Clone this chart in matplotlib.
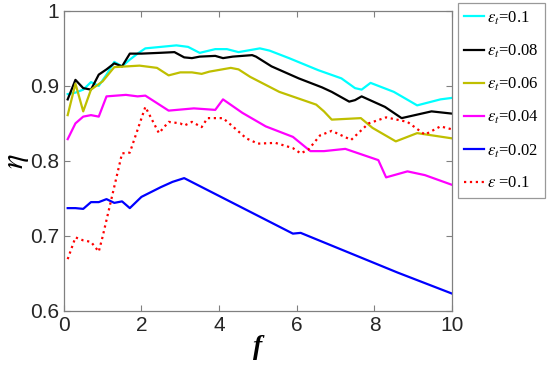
import matplotlib
matplotlib.use("Agg")
import matplotlib.pyplot as plt

# eps_t = 0.1
f_c = [0.1, 0.3, 0.5, 0.7, 0.9, 1.1, 1.3, 1.5, 1.7, 1.9, 2.1, 2.5, 2.9, 3.2, 3.5, 3.9, 4.2, 4.5,
       5.05, 5.3, 5.8, 6.55, 7.15, 7.5, 7.67, 7.9, 8.5, 9.1, 9.7, 10]
eta_c = [0.889, 0.891, 0.895, 0.905, 0.900, 0.915, 0.932, 0.926, 0.935, 0.943, 0.950, 0.952, 0.954,
         0.952, 0.944, 0.949, 0.949, 0.945, 0.950, 0.947, 0.937, 0.921, 0.910, 0.897, 0.895, 0.904,
         0.892, 0.874, 0.882, 0.884]

# eps_t = 0.08
f_k = [0.1, 0.3, 0.5, 0.7, 0.9, 1.1, 1.3, 1.5, 1.7, 2.0, 2.45, 2.85, 3.1, 3.3, 3.5, 3.9, 4.1, 4.35,
       4.85, 4.95, 5.35, 6.05, 6.65, 6.9, 7.35, 7.5, 7.67, 8.27, 8.7, 9.47, 10]
eta_k = [0.882, 0.908, 0.897, 0.895, 0.915, 0.922, 0.930, 0.926, 0.943, 0.943, 0.944, 0.945, 0.938,
         0.937, 0.939, 0.940, 0.937, 0.939, 0.941, 0.939, 0.926, 0.910, 0.898, 0.892, 0.879, 0.881,
         0.886, 0.872, 0.857, 0.866, 0.863]

# eps_t = 0.06
f_y = [0.1, 0.3, 0.5, 0.7, 1.0, 1.3, 1.95, 2.4, 2.7, 3.0, 3.3, 3.55, 3.75, 4.3, 4.5, 4.8, 5.55,
       6.5, 6.7, 6.9, 7.65, 7.95, 8.55, 9.1, 10]
eta_y = [0.861, 0.903, 0.866, 0.895, 0.906, 0.925, 0.927, 0.924, 0.914, 0.918, 0.918, 0.916, 0.919,
         0.924, 0.922, 0.912, 0.892, 0.875, 0.866, 0.855, 0.857, 0.844, 0.826, 0.837, 0.830]

# eps_t = 0.04
f_m = [0.1, 0.3, 0.5, 0.7, 0.9, 1.1, 1.6, 1.9, 2.1, 2.7, 3.35, 3.9, 4.1, 4.6, 5.2, 5.9, 6.35, 6.7,
       7.25, 8.1, 8.3, 8.85, 9.3, 10]
eta_m = [0.829, 0.850, 0.859, 0.861, 0.859, 0.886, 0.888, 0.886, 0.887, 0.867, 0.870, 0.868, 0.882,
         0.864, 0.846, 0.832, 0.813, 0.813, 0.816, 0.801, 0.778, 0.786, 0.781, 0.768]

# eps_t = 0.02
f_b = [0.1, 0.3, 0.5, 0.7, 0.9, 1.1, 1.3, 1.5, 1.7, 2.0, 2.5, 2.8, 3.1, 5.9, 6.1, 8.6, 10]
eta_b = [0.737, 0.737, 0.736, 0.745, 0.745, 0.749, 0.744, 0.746, 0.737, 0.752, 0.765, 0.772, 0.777,
         0.703, 0.704, 0.651, 0.623]

# eps = 0.1
f_r = [0.1, 0.3, 0.5, 0.7, 0.9, 1.0, 1.5, 1.7, 2.1, 2.45, 2.7, 3.0, 3.1, 3.3, 3.55, 3.7, 4.1, 4.35,
       4.7, 5.0, 5.45, 5.9, 6.1, 6.3, 6.6, 6.9, 7.4, 7.85, 8.3, 8.85, 9.3, 9.7, 10]
eta_r = [0.669, 0.698, 0.694, 0.692, 0.679, 0.699, 0.810, 0.811, 0.872, 0.837, 0.852, 0.850, 0.847,
         0.852, 0.845, 0.857, 0.857, 0.846, 0.830, 0.823, 0.824, 0.817, 0.810, 0.815, 0.834, 0.840,
         0.828, 0.850, 0.858, 0.852, 0.835, 0.846, 0.842]

labels = [r"$\epsilon_t$=0.1", r"$\epsilon_t$=0.08", r"$\epsilon_t$=0.06",
          r"$\epsilon_t$=0.04", r"$\epsilon_t$=0.02", r"$\epsilon$ =0.1"]

plt.rcParams["mathtext.fontset"] = "stix"

fig = plt.figure(figsize=(5.5, 3.75), dpi=100)
ax = fig.add_axes([0.116, 0.171, 0.706, 0.80])

lw = 1.6
ax.plot(f_c, eta_c, "-", color="#00FFFF", lw=lw, label=labels[0])
ax.plot(f_k, eta_k, "-", color="black", lw=lw, label=labels[1])
ax.plot(f_y, eta_y, "-", color="#BFBF00", lw=lw, label=labels[2])
ax.plot(f_m, eta_m, "-", color="#FF00FF", lw=lw, label=labels[3])
ax.plot(f_b, eta_b, "-", color="#0000FF", lw=lw, label=labels[4])
ax.plot(f_r, eta_r, ":", color="#FF0000", lw=lw, label=labels[5])

ax.set_xlim(0, 10)
ax.set_ylim(0.6, 1.0)
ax.set_xticks([0, 2, 4, 6, 8, 10])
ax.set_yticks([0.6, 0.7, 0.8, 0.9, 1.0])
ax.set_yticklabels(["0.6", "0.7", "0.8", "0.9", "1"])
ax.tick_params(direction="in", top=True, right=True, length=4, width=0.8,
               colors="#808080", labelcolor="#262626", labelsize=15)
for lbl in ax.get_xticklabels() + ax.get_yticklabels():
    lbl.set_family("Liberation Sans")
for s in ax.spines.values():
    s.set_color("#808080")
    s.set_linewidth(0.9)

ax.set_xlabel("f", fontsize=20, family="Liberation Serif", style="italic",
              weight="bold", labelpad=0)
ax.set_ylabel(r"$\eta$", fontsize=22, labelpad=-1)

leg = fig.legend(loc="upper left", bbox_to_anchor=(0.832, 0.993), frameon=True,
                 fancybox=False, edgecolor="#808080", handlelength=1.2,
                 handletextpad=0.15, borderpad=0.4, borderaxespad=0,
                 labelspacing=0.95,
                 prop={"family": "Liberation Serif", "size": 12})
leg.get_frame().set_linewidth(0.9)

fig.savefig("out.png", dpi=100)
